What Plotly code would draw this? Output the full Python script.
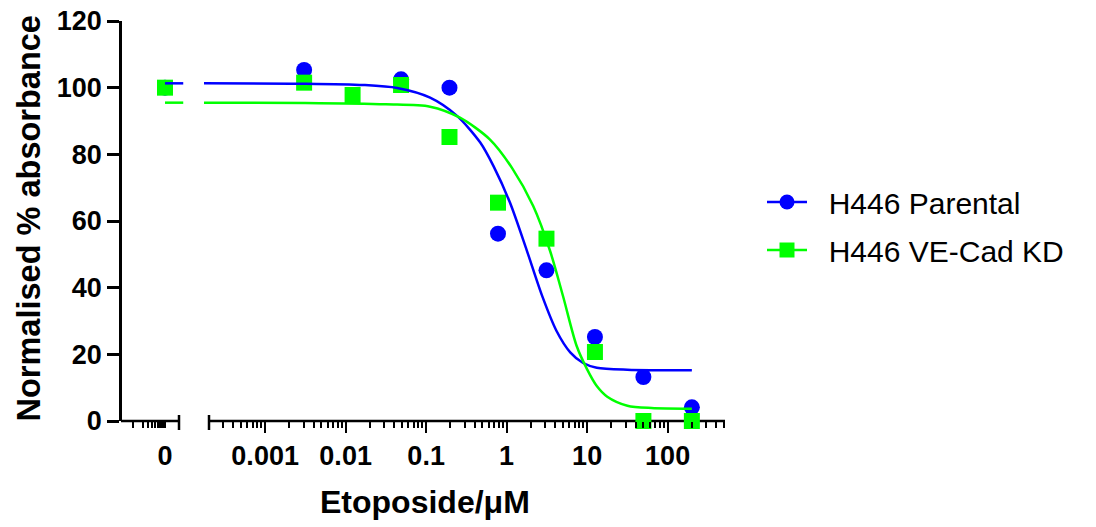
import plotly.graph_objects as go
import math

# ---------------- data ----------------
dose = [0.00305, 0.0122, 0.0488, 0.195, 0.781, 3.125, 12.5, 50, 200]
parental = [105.3, None, 102.5, 100.0, 56.2, 45.2, 25.2, 13.2, 4.1]
vecad_kd = [101.5, 97.8, 100.8, 85.2, 65.5, 54.7, 20.7, 0.0, 0.0]
zero_dose = [0]
zero_parental = [100.0]
zero_vecad_kd = [100.0]

# fitted curves
curve_dose_parental = [1.74e-4, 3.16e-3, 0.0166, 0.0437, 0.112, 0.240, 0.468, 0.692,
                       1.096, 1.778, 2.754, 4.169, 6.166, 8.913, 13.18, 31.62, 200]
curve_parental = [101.3, 101.2, 100.8, 99.9, 97.0, 91.6, 83.6, 76.3,
                  65.6, 51.2, 37.6, 27.0, 20.6, 17.4, 16.0, 15.4, 15.2]
curve_dose_vecad = [1.74e-4, 3.16e-3, 0.0316, 0.112, 0.263, 0.617, 1.175, 2.138,
                    3.467, 5.012, 7.413, 10.0, 13.18, 17.78, 31.62, 63.1, 200]
curve_vecad = [95.5, 95.4, 95.0, 94.3, 91.0, 84.5, 75.8, 64.5,
               51.0, 37.5, 22.5, 15.5, 10.5, 7.3, 4.6, 3.9, 3.7]
left_curve_x = [0, 0.57]   # extent of the curve stub in the "0" segment

major_ticks = [0.001, 0.01, 0.1, 1, 10, 100]
major_text = ["0.001", "0.01", "0.1", "1", "10", "100"]
y_ticks = [0, 20, 40, 60, 80, 100, 120]

names = ["H446 Parental", "H446 VE-Cad KD"]
BLUE = "#0000FF"
GREEN = "#00FF00"

# ---------------- layout geometry (pixels) ----------------
W, H = 1096, 527
L, R, T, B = 122, 727, 21, 421
pw, ph = R - L, B - T


def px(p):
    return (p - L) / pw


def py_off(d):  # offset in px above (positive) the x axis line -> paper y
    return d / ph


FONT = "Liberation Sans, Arial, sans-serif"
NBSP = "\u00a0"

fig = go.Figure()

# markers (zero segment)
fig.add_trace(go.Scatter(x=zero_dose, y=zero_parental, xaxis="x", yaxis="y", mode="markers",
                         marker=dict(symbol="circle", size=16, color=BLUE, line=dict(width=0)),
                         cliponaxis=False, showlegend=False, hoverinfo="skip"))
fig.add_trace(go.Scatter(x=zero_dose, y=zero_vecad_kd, xaxis="x", yaxis="y", mode="markers",
                         marker=dict(symbol="square", size=16, color=GREEN, line=dict(width=0)),
                         cliponaxis=False, showlegend=False, hoverinfo="skip"))
# curve stubs in zero segment
fig.add_trace(go.Scatter(x=left_curve_x, y=[curve_parental[0]] * 2, xaxis="x", yaxis="y",
                         mode="lines", line=dict(color=BLUE, width=2.5), showlegend=False))
fig.add_trace(go.Scatter(x=left_curve_x, y=[curve_vecad[0]] * 2, xaxis="x", yaxis="y",
                         mode="lines", line=dict(color=GREEN, width=2.5), showlegend=False))

# markers (log segment)
fig.add_trace(go.Scatter(x=dose, y=parental, xaxis="x2", yaxis="y", mode="markers",
                         marker=dict(symbol="circle", size=16, color=BLUE, line=dict(width=0)),
                         cliponaxis=False, showlegend=False))
fig.add_trace(go.Scatter(x=dose, y=vecad_kd, xaxis="x2", yaxis="y", mode="markers",
                         marker=dict(symbol="square", size=16, color=GREEN, line=dict(width=0)),
                         cliponaxis=False, showlegend=False))
# fitted curves
fig.add_trace(go.Scatter(x=curve_dose_parental, y=curve_parental, xaxis="x2", yaxis="y",
                         mode="lines", line=dict(color=BLUE, width=2.5, shape="spline", smoothing=0.8),
                         showlegend=False))
fig.add_trace(go.Scatter(x=curve_dose_vecad, y=curve_vecad, xaxis="x2", yaxis="y",
                         mode="lines", line=dict(color=GREEN, width=2.5, shape="spline", smoothing=0.8),
                         showlegend=False))

# legend entries
fig.add_trace(go.Scatter(x=[None], y=[None], xaxis="x2", yaxis="y", mode="lines+markers",
                         name=NBSP * 2 + names[0], legendgroup="a",
                         line=dict(color=BLUE, width=2.5),
                         marker=dict(symbol="circle", size=15, color=BLUE)))
fig.add_trace(go.Scatter(x=[None], y=[None], xaxis="x2", yaxis="y", mode="lines+markers",
                         name=NBSP * 2 + names[1], legendgroup="b",
                         line=dict(color=GREEN, width=2.5),
                         marker=dict(symbol="square", size=15, color=GREEN)))

# tick positions
left_minor = [-1 + math.log10(k) for k in range(1, 10)] + [-0.035, -0.02]
right_minor = []
for n in range(-4, 3):
    for k in range(2, 10):
        v = k * 10 ** n
        if 0.00025 <= v <= 510:
            right_minor.append(v)

tickfont = dict(family=FONT, size=27, color="black", weight="bold")

x2_lo = math.log10(1.74e-4)
x2_hi = x2_lo + (R - 204) / 80.5

fig.update_layout(
    width=W, height=H,
    margin=dict(l=L, r=W - R, t=T, b=H - B, autoexpand=False),
    paper_bgcolor="white", plot_bgcolor="white",
    showlegend=True,
    xaxis=dict(domain=[0, px(185)], range=[-1.344, 0.625], type="linear",
               showline=False, showgrid=False, zeroline=False,
               tickmode="array", tickvals=zero_dose, ticktext=["0"],
               ticks="outside", ticklen=6, tickwidth=2, tickcolor="black",
               ticklabelstandoff=5,
               minor=dict(tickmode="array", tickvals=left_minor, ticks="outside",
                          ticklen=6, tickwidth=2, tickcolor="black", showgrid=False),
               tickfont=tickfont, fixedrange=True),
    xaxis2=dict(domain=[px(204), 1], range=[x2_lo, x2_hi], type="log", anchor="y",
                showline=False, showgrid=False, zeroline=False,
                tickmode="array", tickvals=major_ticks, ticktext=major_text,
                ticks="outside", ticklen=11, tickwidth=2, tickcolor="black",
                minor=dict(tickmode="array", tickvals=right_minor, ticks="outside",
                           ticklen=6, tickwidth=2, tickcolor="black", showgrid=False),
                tickfont=tickfont, fixedrange=True),
    yaxis=dict(range=[0, 120], tickmode="array", tickvals=y_ticks,
               showline=True, linewidth=2.5, linecolor="black",
               ticks="outside", ticklen=12, tickwidth=2.5, tickcolor="black",
               showgrid=False, zeroline=False, tickfont=tickfont, fixedrange=True),
    legend=dict(x=px(762), xanchor="left", y=(B - 226) / ph, yanchor="middle",
                font=dict(family=FONT, size=30, color="black"),
                traceorder="grouped", tracegroupgap=6, itemwidth=40,
                bgcolor="rgba(0,0,0,0)"),
    annotations=[
        dict(text="Etoposide/μM", xref="paper", yref="paper", x=0.5, y=-(502 - B) / ph,
             xanchor="center", yanchor="middle", showarrow=False,
             font=dict(family=FONT, size=32, color="black", weight="bold")),
        dict(text="Normalised % absorbance", xref="paper", yref="paper", x=px(28.5), y=0.505,
             xanchor="center", yanchor="middle", textangle=-90, showarrow=False,
             font=dict(family=FONT, size=32.5, color="black", weight="bold")),
    ],
    shapes=[
        # x axis segments
        dict(type="line", xref="paper", yref="paper", x0=px(121), x1=px(179), y0=0, y1=0,
             line=dict(color="black", width=2.5), layer="below"),
        dict(type="line", xref="paper", yref="paper", x0=px(209), x1=px(725), y0=0, y1=0,
             line=dict(color="black", width=2.5), layer="below"),
        # end caps at the break
        dict(type="line", xref="paper", yref="paper", x0=px(179), x1=px(179),
             y0=py_off(6), y1=py_off(-9), line=dict(color="black", width=2.5), layer="below"),
        dict(type="line", xref="paper", yref="paper", x0=px(209), x1=px(209),
             y0=py_off(6), y1=py_off(-9), line=dict(color="black", width=2.5), layer="below"),
    ],
)

fig.write_html("out.html", config={"displayModeBar": False},
               post_script="document.body.style.margin='0px';")
